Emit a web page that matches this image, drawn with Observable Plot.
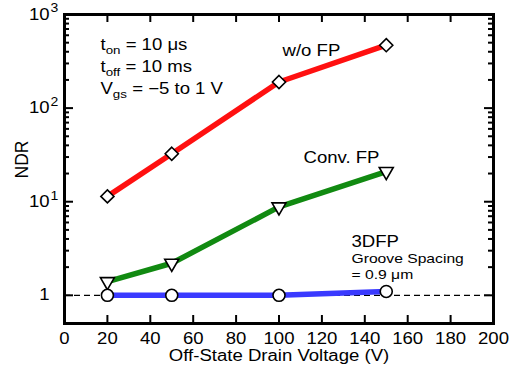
<!DOCTYPE html>
<html><head><meta charset="utf-8">
<script src="https://cdn.jsdelivr.net/npm/d3@7"></script>
<script src="https://cdn.jsdelivr.net/npm/@observablehq/plot@0.6"></script>
<style>body{margin:0;background:#fff}</style>
</head><body><div id="chart"></div>
<script>
// ---- data ----
const voltages = [20, 50, 100, 150];
const ndrWoFP = [11.4, 32.5, 190, 470];
const ndrConvFP = [1.4, 2.2, 8.8, 21];
const ndr3DFP = [1.0, 1.0, 1.0, 1.1];
const seriesNames = ["w/o FP", "Conv. FP", "3DFP"];
const seriesColors = ["#ff1010", "#118a11", "#3a3aff"];
const xTicks = [0, 20, 40, 60, 80, 100, 120, 140, 160, 180, 200];
const yMajor = [1, 10, 100, 1000];
const yMinor = [2,3,4,5,6,7,8,9,20,30,40,50,60,70,80,90,200,300,400,500,600,700,800,900];
const yLabels = ["1", "10", "10", "10"];
const yExponents = ["", "1", "2", "3"];
const paramLines = ["t_{on} = 10 μs", "t_{off} = 10 ms", "V_{gs} = −5 to 1 V"];
const noteLines = ["Groove Spacing", "= 0.9 μm"];
const xTitle = "Off-State Drain Voltage (V)";
const yTitle = "NDR";

const series = [ndrWoFP, ndrConvFP, ndr3DFP];
const rows = series.flatMap((vals, s) => voltages.map((v, i) => ({series: seriesNames[s], v, ndr: vals[i]})));
const bySeries = name => rows.filter(d => d.series === name);
const majorRows = yMajor.map((d, i) => ({d, label: yLabels[i], exp: yExponents[i]}));

const W = 515, H = 367, mL = 64, mR = 22, mT = 14, mB = 44;
const innerW = W - mL - mR, innerH = H - mT - mB;
const dotStyle = {x: "v", y: "ndr", fill: "white", stroke: "black", strokeWidth: 1.6};
const tickStyle = {stroke: "black", strokeWidth: 2};
const ann = (text, dx, dy, fontSize = 16) =>
  Plot.text([text], {frameAnchor: "top-left", dx, dy, textAnchor: "start", lineAnchor: "middle", fontSize});

const chart = Plot.plot({
  width: W, height: H,
  marginLeft: mL, marginRight: mR, marginTop: mT, marginBottom: mB,
  style: {fontFamily: "'Liberation Sans', Arial, sans-serif", fontSize: "16px", color: "black", background: "white"},
  x: {domain: [0, 200], axis: null},
  y: {type: "log", domain: [0.5, 1000], axis: null},
  color: {domain: seriesNames, range: seriesColors},
  marks: [
    Plot.ruleY([1], {stroke: "black", strokeWidth: 1.3, strokeDasharray: "6,4"}),
    Plot.line(rows, {x: "v", y: "ndr", z: "series", stroke: "series", strokeWidth: 5.5}),
    Plot.dot(bySeries("w/o FP"), {...dotStyle, symbol: "diamond2", r: 5.9}),
    Plot.dot(bySeries("Conv. FP"), {...dotStyle, symbol: "triangle", r: 5.2, rotate: 180}),
    Plot.dot(bySeries("3DFP"), {...dotStyle, symbol: "circle", r: 6}),
    // inward ticks
    Plot.tickX(xTicks, {x: d => d, insetTop: innerH - 8, ...tickStyle}),
    Plot.tickX(xTicks, {x: d => d, insetBottom: innerH - 8, ...tickStyle}),
    Plot.tickY(yMajor, {y: d => d, insetRight: innerW - 9, ...tickStyle}),
    Plot.tickY(yMajor, {y: d => d, insetLeft: innerW - 9, ...tickStyle}),
    Plot.tickY(yMinor, {y: d => d, insetRight: innerW - 5, ...tickStyle}),
    Plot.tickY(yMinor, {y: d => d, insetLeft: innerW - 5, ...tickStyle}),
    // x tick labels
    Plot.axisX(xTicks, {anchor: "bottom", tickSize: 0, tickPadding: 9, label: null, fontSize: 16}),
    // y tick labels with superscripts
    Plot.text(majorRows, {y: "d", text: "label", frameAnchor: "left", dx: -15, textAnchor: "end", fontSize: 16}),
    Plot.text(majorRows, {y: "d", text: "exp", frameAnchor: "left", dx: -14, dy: -6, textAnchor: "start", fontSize: 12}),
    Plot.frame({stroke: "black", strokeWidth: 3}),
    // titles
    Plot.text([xTitle], {frameAnchor: "bottom", dy: 32, lineAnchor: "middle", fontSize: 16}),
    Plot.text([yTitle], {frameAnchor: "left", dx: -42, dy: -9.5, textAnchor: "middle", lineAnchor: "middle", rotate: -90, fontSize: 17.5, className: "ytitle"}),
    // annotations
    ...paramLines.map((t, i) => ann(t, 36, 30 + 22 * i)),
    ann(seriesNames[0], 218, 36),
    ann(seriesNames[1], 239, 143),
    ann(seriesNames[2], 287, 227),
    ...noteLines.map((t, i) => ann(t, 287, 244 + 16 * i, 13.5))
  ]
});

// subscripts: turn "_{...}" into real tspans
d3.select(chart).selectAll("text").each(function() {
  const el = this;
  const s = el.textContent;
  if (!s.includes("_{")) return;
  el.textContent = "";
  const parts = s.split(/(_\{[^}]*\})/);
  let shifted = false;
  parts.forEach(p => {
    if (!p) return;
    const t = document.createElementNS("http://www.w3.org/2000/svg", "tspan");
    if (p.startsWith("_{")) {
      t.textContent = p.slice(2, -1);
      t.setAttribute("font-size", "11.5");
      t.setAttribute("dy", "4");
      shifted = true;
    } else {
      t.textContent = p;
      if (shifted) { t.setAttribute("dy", "-4"); shifted = false; }
    }
    el.appendChild(t);
  });
});

document.getElementById("chart").appendChild(chart);

// the reference lettering is horizontally wider than Arial: widen each (unrotated) text a little
d3.select(chart).selectAll("text").each(function() {
  if (this.closest(".ytitle")) return;
  const len = this.getComputedTextLength();
  if (len > 0) {
    this.setAttribute("textLength", (len * 1.16).toFixed(1));
    this.setAttribute("lengthAdjust", "spacingAndGlyphs");
  }
});
</script>
</body></html>
